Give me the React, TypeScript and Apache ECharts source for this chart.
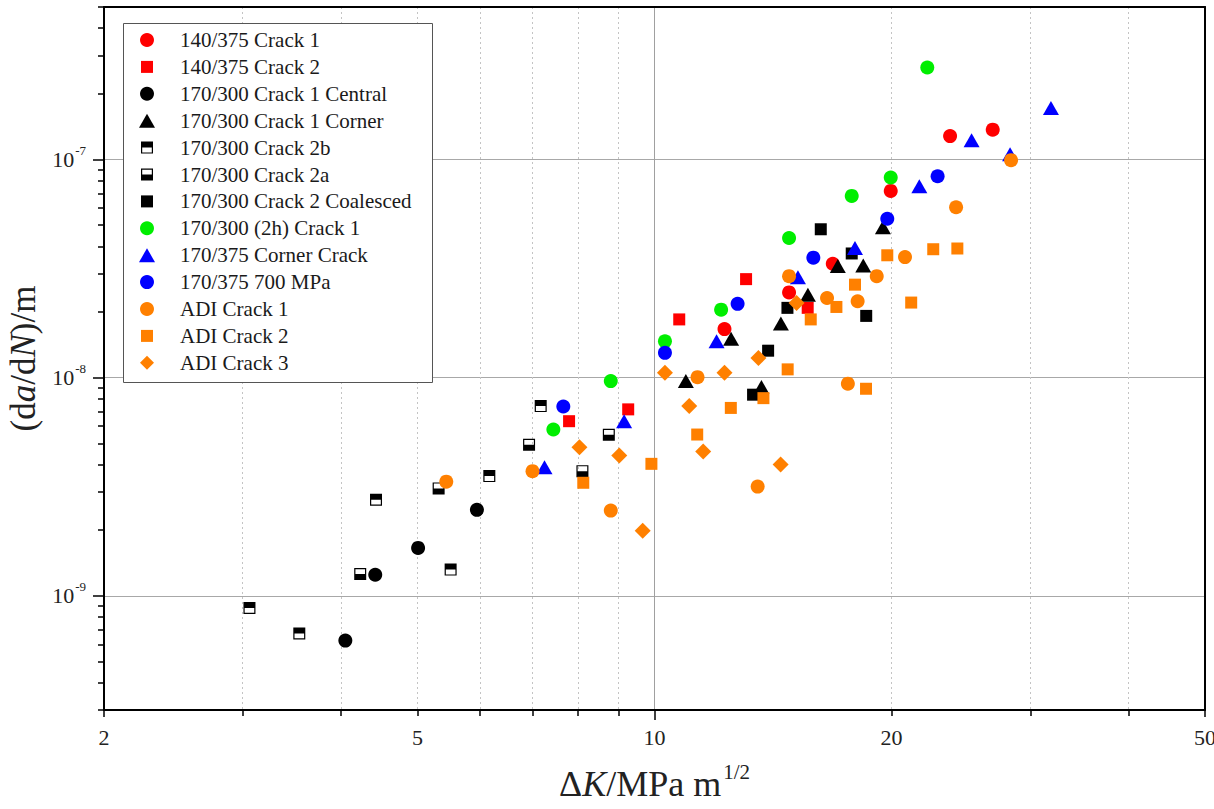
import { useEffect, useRef } from 'react';
import * as echarts from 'echarts';

const FONT = '"Liberation Serif", "Times New Roman", serif';

// ---- data: [ΔK (MPa m^1/2), da/dN (m/cycle)] ----
const crack140_375_1 = [[12.27, 1.67e-8], [14.82, 2.46e-8], [16.84, 3.33e-8], [19.95, 7.18e-8], [23.73, 1.28e-7], [26.88, 1.37e-7]];
const crack140_375_2 = [[7.79, 6.32e-9], [9.26, 7.16e-9], [10.75, 1.85e-8], [13.07, 2.83e-8], [15.65, 2.09e-8]];
const crack170_300_1Central = [[4.05, 6.24e-10], [4.42, 1.25e-9], [5.01, 1.66e-9], [5.95, 2.48e-9]];
const crack170_300_1Corner = [[10.96, 9.65e-9], [12.51, 1.51e-8], [14.47, 1.77e-8], [15.66, 2.4e-8], [17.09, 3.25e-8], [18.41, 3.27e-8], [19.5, 4.89e-8], [13.67, 9.06e-9]];
const crack170_300_2b = [[3.06, 8.81e-10], [3.54, 6.73e-10], [4.43, 2.76e-9], [5.51, 1.32e-9], [6.17, 3.54e-9], [7.17, 7.41e-9]];
const crack170_300_2a = [[4.23, 1.26e-9], [5.32, 3.11e-9], [6.93, 4.93e-9], [8.1, 3.73e-9], [8.75, 5.48e-9]];
const crack170_300_2Coalesced = [[16.26, 4.79e-8], [17.8, 3.71e-8], [14.75, 2.09e-8], [18.57, 1.92e-8], [13.94, 1.33e-8], [13.34, 8.36e-9]];
const crack170_300_2h = [[7.44, 5.79e-9], [8.8, 9.65e-9], [10.31, 1.47e-8], [12.15, 2.05e-8], [14.82, 4.37e-8], [17.8, 6.81e-8], [19.95, 8.27e-8], [22.2, 2.64e-7]];
const crack170_375Corner = [[7.25, 3.89e-9], [9.15, 6.32e-9], [11.99, 1.47e-8], [15.21, 2.89e-8], [17.97, 3.93e-8], [21.69, 7.55e-8], [25.27, 1.226e-7], [28.28, 1.057e-7], [31.87, 1.724e-7]];
const crack170_375_700 = [[7.66, 7.38e-9], [10.31, 1.3e-8], [12.75, 2.18e-8], [15.91, 3.55e-8], [19.75, 5.35e-8], [22.88, 8.38e-8]];
const adiCrack1 = [[5.44, 3.34e-9], [7.0, 3.73e-9], [8.8, 2.46e-9], [11.34, 1.006e-8], [13.52, 3.17e-9], [14.82, 2.92e-8], [16.56, 2.32e-8], [17.6, 9.39e-9], [18.11, 2.24e-8], [19.15, 2.92e-8], [20.8, 3.57e-8], [24.15, 6.04e-8], [28.36, 9.93e-8]];
const adiCrack2 = [[8.12, 3.3e-9], [9.91, 4.03e-9], [11.33, 5.49e-9], [12.5, 7.27e-9], [13.75, 8.06e-9], [14.76, 1.092e-8], [15.79, 1.85e-8], [17.02, 2.11e-8], [17.97, 2.67e-8], [18.56, 8.9e-9], [19.75, 3.64e-8], [21.18, 2.21e-8], [22.59, 3.88e-8], [24.24, 3.91e-8]];
const adiCrack3 = [[8.03, 4.8e-9], [9.02, 4.4e-9], [9.66, 1.99e-9], [10.31, 1.054e-8], [11.07, 7.41e-9], [11.53, 4.59e-9], [12.27, 1.054e-8], [13.55, 1.23e-8], [14.46, 4.0e-9], [15.15, 2.2e-8]];

// ---- ticks ----
const xTickLabels = [2, 5, 10, 20, 50];
const xMajorTicks = [10];
const xMinorTicks = [3, 4, 5, 6, 7, 8, 9, 20, 30, 40];
const xEndTicks = [2, 50];
const yTickLabels = [1e-9, 1e-8, 1e-7];
const yMinorTicks = [
  3e-10, 4e-10, 5e-10, 6e-10, 7e-10, 8e-10, 9e-10,
  2e-9, 3e-9, 4e-9, 5e-9, 6e-9, 7e-9, 8e-9, 9e-9,
  2e-8, 3e-8, 4e-8, 5e-8, 6e-8, 7e-8, 8e-8, 9e-8,
  2e-7, 3e-7, 4e-7, 5e-7,
];

const SQUARE = 'path://M0,0 M1,1 H13 V13 H1 Z M14,14';
const HALF_TOP = 'path://M0,0 M1,1 H13 V13 H1 Z M2.2,2.2 V11.8 H11.8 V2.2 Z M2.2,2.2 H11.8 V7 H2.2 Z M14,14';
const HALF_BOTTOM = 'path://M0,0 M1,1 H13 V13 H1 Z M2.2,2.2 V11.8 H11.8 V2.2 Z M2.2,7 H11.8 V11.8 H2.2 Z M14,14';
const TRI = 'path://M0,14 L8,0 L16,14 Z';
const DIA = 'path://M8,0 L16,8 L8,16 L0,8 Z';

const RED = '#ff0000';
const BLACK = '#000000';
const GREEN = '#00ee00';
const BLUE = '#0000ff';
const ORANGE = '#ff8000';

const defs = [
  { name: '140/375 Crack 1', data: crack140_375_1, color: RED, symbol: 'circle', size: 14, icon: 'circle' },
  { name: '140/375 Crack 2', data: crack140_375_2, color: RED, symbol: SQUARE, size: 14, icon: SQUARE },
  { name: '170/300 Crack 1 Central', data: crack170_300_1Central, color: BLACK, symbol: 'circle', size: 14, icon: 'circle' },
  { name: '170/300 Crack 1 Corner', data: crack170_300_1Corner, color: BLACK, symbol: 'triangle', size: [16, 14], icon: TRI },
  { name: '170/300 Crack 2b', data: crack170_300_2b, color: BLACK, symbol: HALF_TOP, size: 14, icon: HALF_TOP },
  { name: '170/300 Crack 2a', data: crack170_300_2a, color: BLACK, symbol: HALF_BOTTOM, size: 14, icon: HALF_BOTTOM },
  { name: '170/300 Crack 2 Coalesced', data: crack170_300_2Coalesced, color: BLACK, symbol: SQUARE, size: 14, icon: SQUARE },
  { name: '170/300 (2h) Crack 1', data: crack170_300_2h, color: GREEN, symbol: 'circle', size: 14, icon: 'circle' },
  { name: '170/375 Corner Crack', data: crack170_375Corner, color: BLUE, symbol: 'triangle', size: [16, 14], icon: TRI },
  { name: '170/375 700 MPa', data: crack170_375_700, color: BLUE, symbol: 'circle', size: 14, icon: 'circle' },
  { name: 'ADI Crack 1', data: adiCrack1, color: ORANGE, symbol: 'circle', size: 14, icon: 'circle' },
  { name: 'ADI Crack 2', data: adiCrack2, color: ORANGE, symbol: SQUARE, size: 14, icon: SQUARE },
  { name: 'ADI Crack 3', data: adiCrack3, color: ORANGE, symbol: 'diamond', size: [16, 16], icon: DIA },
];

const tickLine = { color: '#000', width: 1.5 };

export default function App() {
  const ref = useRef<HTMLDivElement>(null);
  useEffect(() => {
    if (!ref.current) return;
    const chart = echarts.init(ref.current, null, { renderer: 'svg' });
    const xBase = { type: 'log', logBase: 10, min: 2, max: 50, gridIndex: 0 };
    const yBase = { type: 'log', logBase: 10, min: 3e-10, max: 5e-7, gridIndex: 0 };
    const off = { show: false };
    chart.setOption({
      animation: false,
      backgroundColor: '#ffffff',
      textStyle: { fontFamily: FONT },
      grid: { left: 104, right: 9, top: 7, bottom: 99, containLabel: false, outerBoundsMode: 'none' },
      legend: {
        orient: 'vertical',
        left: 139,
        top: 29.5,
        padding: 0,
        itemGap: 5.9,
        itemWidth: 56,
        itemHeight: 14,
        selectedMode: false,
        textStyle: { fontFamily: FONT, fontSize: 21, color: '#1a1a1a', lineHeight: 20 },
        data: defs.map((d) => ({ name: d.name, icon: d.icon })),
        z: 5,
      },
      graphic: [
        {
          type: 'rect',
          z: 3,
          shape: { x: 123.5, y: 23.5, width: 309, height: 359 },
          style: { fill: '#ffffff', stroke: '#555555', lineWidth: 1 },
        },
      ],
      xAxis: [
        {
          ...xBase,
          position: 'bottom',
          axisLine: { show: true, onZero: false, lineStyle: { color: '#000', width: 2 } },
          axisTick: { show: true, customValues: xMajorTicks, length: 10, lineStyle: tickLine },
          axisLabel: {
            show: true,
            customValues: xTickLabels,
            margin: 16,
            fontFamily: FONT,
            fontSize: 22,
            color: '#222',
            formatter: (v: number) => String(Math.round(v)),
          },
          splitLine: { show: true, lineStyle: { color: '#a0a0a0', width: 1 } },
          minorTick: off,
          minorSplitLine: off,
          name: '{n|Δ}{i|K}{n|/MPa m}{s|1/2}',
          nameLocation: 'middle',
          nameGap: 51,
          nameTextStyle: {
            fontFamily: FONT,
            fontSize: 36,
            color: '#222',
            rich: {
              n: { fontFamily: FONT, fontSize: 36, color: '#222' },
              i: { fontFamily: FONT, fontSize: 36, fontStyle: 'italic', color: '#222' },
              s: { fontFamily: FONT, fontSize: 21, color: '#222', padding: [0, 0, 24, 2] },
            },
          },
        },
        {
          ...xBase,
          position: 'bottom',
          axisLine: off,
          axisTick: { show: true, customValues: xMinorTicks, length: 6, lineStyle: tickLine },
          axisLabel: off,
          splitLine: { show: true, lineStyle: { color: '#c4c4c4', width: 1, type: [2, 3] } },
          minorTick: off,
          minorSplitLine: off,
        },
        {
          ...xBase,
          position: 'bottom',
          axisLine: off,
          axisTick: { show: true, customValues: xEndTicks, length: 7, lineStyle: tickLine },
          axisLabel: off,
          splitLine: off,
        },
        {
          ...xBase,
          position: 'top',
          axisLine: { show: true, onZero: false, lineStyle: { color: '#000', width: 2 } },
          axisTick: off,
          axisLabel: off,
          splitLine: off,
        },
      ],
      yAxis: [
        {
          ...yBase,
          position: 'left',
          axisLine: { show: true, onZero: false, lineStyle: { color: '#000', width: 2 } },
          axisTick: { show: true, customValues: yTickLabels, length: 11, lineStyle: tickLine },
          axisLabel: {
            show: true,
            customValues: yTickLabels,
            margin: 18,
            formatter: (v: number) => '{b|10}{s|' + Math.round(Math.log10(v)) + '}',
            rich: {
              b: { fontFamily: FONT, fontSize: 22, color: '#222' },
              s: { fontFamily: FONT, fontSize: 13, color: '#222', padding: [0, 0, 18, 1] },
            },
          },
          splitLine: { show: true, lineStyle: { color: '#a8a8a8', width: 1 } },
          minorTick: off,
          minorSplitLine: off,
          name: '{n|(d}{i|a}{n|/d}{i|N}{n|)/m}',
          nameLocation: 'middle',
          nameRotate: 90,
          nameGap: 56,
          nameTextStyle: {
            fontFamily: FONT,
            fontSize: 35,
            color: '#222',
            rich: {
              n: { fontFamily: FONT, fontSize: 35, color: '#222' },
              i: { fontFamily: FONT, fontSize: 35, fontStyle: 'italic', color: '#222' },
            },
          },
        },
        {
          ...yBase,
          position: 'left',
          axisLine: off,
          axisTick: { show: true, customValues: yMinorTicks, length: 6, lineStyle: tickLine },
          axisLabel: off,
          splitLine: off,
        },
        {
          ...yBase,
          position: 'right',
          axisLine: { show: true, onZero: false, lineStyle: { color: '#000', width: 2 } },
          axisTick: off,
          axisLabel: off,
          splitLine: off,
        },
      ],
      series: defs.map((d) => ({
        type: 'scatter',
        name: d.name,
        data: d.data,
        xAxisIndex: 0,
        yAxisIndex: 0,
        symbol: d.symbol,
        symbolSize: d.size,
        itemStyle: { color: d.color, opacity: 1 },
        emphasis: { disabled: true },
        z: 2,
      })),
    });
    return () => chart.dispose();
  }, []);
  return (
    <div
      ref={ref}
      style={{ position: 'fixed', left: 0, top: 0, width: 1214, height: 809, background: '#fff' }}
    />
  );
}
